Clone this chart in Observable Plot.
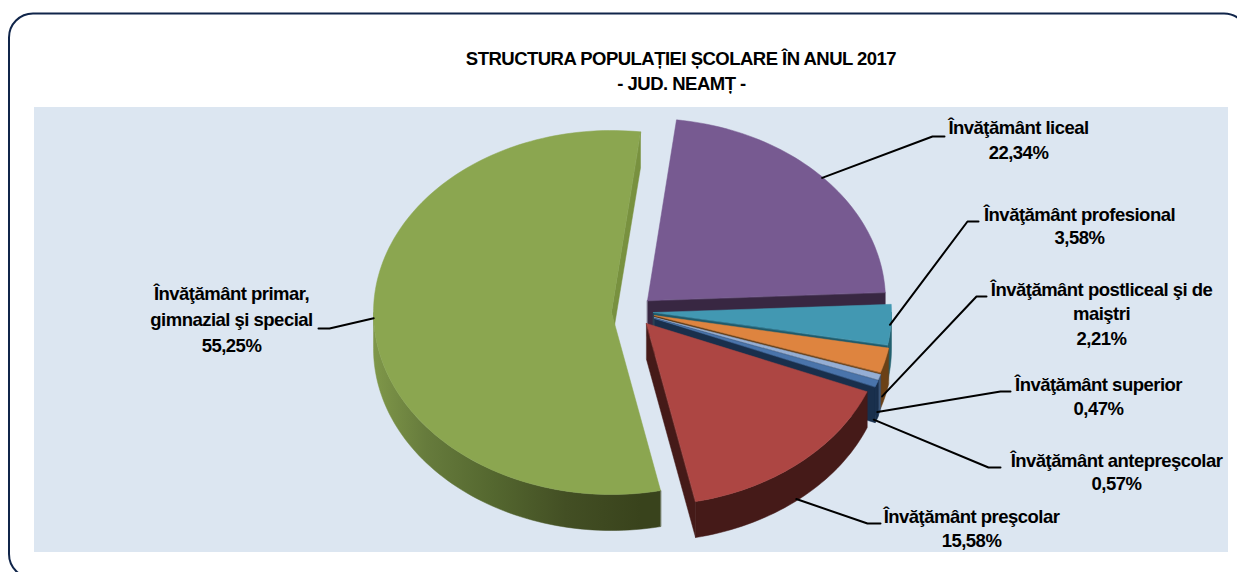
<!DOCTYPE html>
<html>
<head>
<meta charset="utf-8">
<script src="https://cdn.jsdelivr.net/npm/d3@7"></script>
<script src="https://cdn.jsdelivr.net/npm/@observablehq/plot@0.6"></script>
<style>html,body{margin:0;padding:0;background:#fff}svg{display:block}svg text{letter-spacing:-0.52px}</style>
</head>
<body>
<div id="chart"></div>
<script>
const categories = ["Învăţământ liceal","Învăţământ profesional","Învăţământ postliceal şi de maiştri","Învăţământ superior","Învăţământ antepreşcolar","Învăţământ preşcolar","Învăţământ primar, gimnazial şi special"];
const shares = [22.34,3.58,2.21,0.47,0.57,15.58,55.25];
const shareLabels = ["22,34%","3,58%","2,21%","0,47%","0,57%","15,58%","55,25%"];
const topColors = ["#775a91","#4298b2","#de843f","#95aed4","#4a74ab","#ad4643","#8ba650"];
const cutColors = ["#382742","#1f5a6a","#5e3a15","#3a5578","#192f4c","#451a18","#78913f"];
const wallColors = ["#382742","#22606f","#6b4116","#3a5578","#192f4c","#451a18","url(#greenWall)"];
// layout of the exploded 3-D projection
const tips = [[647,300],[653,312],[654,315],[654,317],[654,318],[646,323],[611,312]];
const tipDrop = [[0,36],[0,36],[0,36],[0,36],[0,36],[0,36],[3,13]];
const RX = 238, RY = 182, DEPTH = 36, START = 7;
// leader layout
const leaderElbow = [[932,136,944],[967,221,978],[976,296,986],[1000,391,1010],[988,467,1000],[867,523,880],[329,328,318]];
const leaderDrop = [[0,1],[-1,0],[-3,36],[-2,35],[-3,36],[-3,36],[0,-2]];
const labelRows = [
  {t:"Învăţământ liceal",x:1018,y:128},{t:"22,34%",x:1018,y:153},
  {t:"Învăţământ profesional",x:1079,y:215},{t:"3,58%",x:1079,y:238},
  {t:"Învăţământ postliceal şi de",x:1101,y:290},{t:"maiştri",x:1101,y:314},{t:"2,21%",x:1101,y:339},
  {t:"Învăţământ superior",x:1098,y:385},{t:"0,47%",x:1098,y:409},
  {t:"Învăţământ antepreşcolar",x:1116,y:461},{t:"0,57%",x:1116,y:484},
  {t:"Învăţământ preşcolar",x:971,y:517},{t:"15,58%",x:971,y:541},
  {t:"Învăţământ primar,",x:231,y:294},{t:"gimnazial şi special",x:231,y:320},{t:"55,25%",x:231,y:346}
];
const titleRows = [
  {t:"STRUCTURA POPULAȚIEI ȘCOLARE ÎN ANUL 2017",x:680.5,y:59},
  {t:"- JUD. NEAMȚ -",x:681,y:84}
];

const rad = d => d*Math.PI/180;
const at = (i,deg) => [tips[i][0]+RX*Math.sin(rad(deg)), tips[i][1]-RY*Math.cos(rad(deg))];
let cum = START;
const spans = shares.map(s => { const a=cum; cum += s*3.6; return [a,cum]; });
const arc = (i,a,b) => { const n=Math.max(2,Math.ceil((b-a)/1.5)); return d3.range(n+1).map(k=>at(i,a+(b-a)*k/n)); };

const polys = [];
const addPoly = (pts,fill) => { const id=polys.length?polys[polys.length-1].id+1:0; pts.forEach(p=>polys.push({id,x:p[0],y:p[1],fill})); };
shares.forEach((s,i)=>{
  const [a,b]=spans[i];
  const tip=tips[i], e=at(i,b);
  addPoly([tip,e,[e[0],e[1]+DEPTH],[tip[0]+tipDrop[i][0],tip[1]+tipDrop[i][1]]],cutColors[i]);
  const wa=Math.max(a,90), wb=Math.min(b,270);
  if (wb>wa) {
    const top=arc(i,wa,wb);
    addPoly([...top,...top.slice().reverse().map(p=>[p[0],p[1]+DEPTH])],wallColors[i]);
  }
  addPoly([tip,...arc(i,a,b)],topColors[i]);
});
const groups = d3.groups(polys,d=>d.id);

const leaders = leaderElbow.flatMap((l,i)=>{
  const m=(spans[i][0]+spans[i][1])/2, p=at(i,m);
  return [{i,x:p[0]+leaderDrop[i][0],y:p[1]+leaderDrop[i][1]},{i,x:l[0],y:l[1]},{i,x:l[2],y:l[1]}];
});

const defs = () => {
  const svgNS="http://www.w3.org/2000/svg";
  const d=document.createElementNS(svgNS,"defs");
  d.innerHTML=`<linearGradient id="greenWall" gradientUnits="userSpaceOnUse" x1="373" x2="640" y1="0" y2="0">
    <stop offset="0" stop-color="#7f9749"/><stop offset="0.2" stop-color="#667b3c"/>
    <stop offset="0.45" stop-color="#54672f"/><stop offset="0.72" stop-color="#434f24"/>
    <stop offset="1" stop-color="#39431c"/></linearGradient>`;
  return d;
};

const font = {fontFamily:"'Liberation Sans',Arial,sans-serif",fontWeight:"bold",fill:"#000",textAnchor:"middle",lineAnchor:"middle"};

const chart = Plot.plot({
  width:1237,height:572,margin:0,
  style:{background:"#fff",overflow:"hidden"},
  x:{domain:[0,1237],range:[0,1237],axis:null},
  y:{domain:[0,572],range:[0,572],axis:null},
  marks:[
    defs,
    Plot.rect([{a:9,b:1248,c:13.5,d:578}],{x1:"a",x2:"b",y1:"c",y2:"d",rx:24,fill:"#fff",stroke:"#10254a",strokeWidth:2}),
    Plot.rect([{a:34,b:1228,c:107,d:552}],{x1:"a",x2:"b",y1:"c",y2:"d",fill:"#dce6f1"}),
    ...groups.map(([id,pts])=>Plot.line(pts,{x:"x",y:"y",curve:"linear-closed",fill:pts[0].fill,stroke:pts[0].fill,strokeWidth:0.5})),
    Plot.line(leaders,{x:"x",y:"y",z:"i",stroke:"#000",strokeWidth:2}),
    Plot.text(labelRows,{x:"x",y:"y",text:"t",fontSize:18.5,...font}),
    Plot.text(titleRows,{x:"x",y:"y",text:"t",fontSize:18.5,...font})
  ]
});
document.getElementById("chart").append(chart);
</script>
</body>
</html>
